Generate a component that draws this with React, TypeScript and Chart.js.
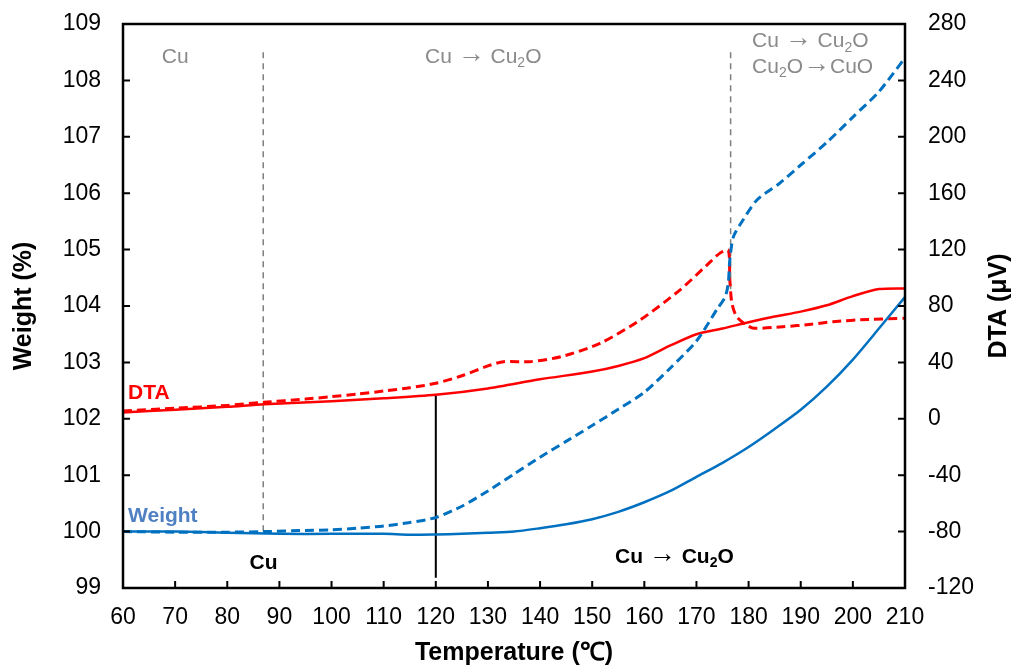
import React, { useEffect, useRef } from "react";
import { Chart, registerables } from "chart.js";

Chart.register(...registerables);

// ---- Data ----
const weightSolidT = [60, 70, 80, 90, 100, 110, 115, 120, 125, 130, 135, 140, 145, 150, 155, 160, 165, 170, 175, 180, 185, 190, 195, 200, 205, 210];
const weightSolid = [100.0, 100.0, 99.98, 99.96, 99.96, 99.96, 99.945, 99.95, 99.96, 99.98, 100.0, 100.06, 100.13, 100.22, 100.35, 100.52, 100.72, 100.97, 101.22, 101.5, 101.82, 102.16, 102.57, 103.05, 103.6, 104.16];

const weightDashedT = [60, 70, 80, 87, 95, 100, 105, 110, 115, 120, 125, 130, 135, 140, 145, 150, 155, 160, 165, 170, 174, 175.5, 176.1, 176.4, 177.1, 178.9, 181.6, 186, 190, 195, 200, 205, 210];
const weightDashed = [100.0, 99.99, 99.99, 100.0, 100.02, 100.03, 100.06, 100.1, 100.16, 100.25, 100.45, 100.72, 101.02, 101.32, 101.6, 101.88, 102.17, 102.47, 102.9, 103.38, 103.95, 104.16, 104.4, 104.82, 105.23, 105.52, 105.88, 106.18, 106.5, 106.9, 107.35, 107.8, 108.4];

const dtaSolidT = [60, 70, 80, 87, 100, 110, 120, 130, 140, 150, 155, 160, 165, 170, 175, 180, 185, 190, 195, 200, 205, 210];
const dtaSolid = [4.5, 6.5, 8.5, 10.3, 12.5, 14.5, 17, 21.5, 28, 33.5, 37.5, 43, 52, 60, 64, 68.5, 72.5, 76, 80.5, 87, 92, 92.5];

const dtaDashedT = [60, 70, 80, 87, 95, 100, 105, 110, 115, 120, 125, 130, 133, 138, 144, 151.5, 159.2, 166.8, 172, 174.5, 176.1, 176.4, 176.8, 177.7, 179.6, 181, 186.6, 192, 196.2, 203, 210];
const dtaDashed = [5.5, 7.5, 9.5, 11.7, 14, 15.7, 17.5, 19.7, 22, 25.2, 30.5, 37.5, 40.5, 40.5, 44, 53.5, 70.1, 91.3, 109, 117.5, 119.7, 98.4, 81.9, 72.4, 66.5, 64.2, 65.3, 67, 68.9, 70.5, 71.3];

// phase boundary markers (temperature, weight top, weight bottom)
const boundaryT = [86.9, 176.55];
const boundaryTop = [108.5, 108.5];
const boundaryBottom = [100.0, 104.05];
const markerT = 120;
const markerTop = 102.43;
const markerBottom = 99.18;

// axis ranges / ticks
const xMin = 60, xMax = 210, xStep = 10;
const yMin = 99, yMax = 109, yStep = 1;
const y2Min = -120, y2Max = 280, y2Step = 40;

const FONT = '"Liberation Sans", Arial, Helvetica, sans-serif';

type Seg = { t: string; sub?: boolean; arrow?: boolean };
type Ann = { segs: Seg[]; x: number; y: number; align: "left" | "center"; bold: boolean; color: string; size: number };

const ARROW = "\u2192";
const cuToCu2O: Seg[] = [{ t: "Cu " }, { t: ARROW, arrow: true }, { t: " Cu" }, { t: "2", sub: true }, { t: "O" }];
const cu2OToCuO: Seg[] = [{ t: "Cu" }, { t: "2", sub: true }, { t: "O" }, { t: ARROW, arrow: true }, { t: "CuO" }];

const annotations: Ann[] = [
  { segs: [{ t: "Cu" }], x: 70, y: 108.41, align: "center", bold: false, color: "#8a8a8a", size: 21 },
  { segs: cuToCu2O, x: 129.1, y: 108.41, align: "center", bold: false, color: "#8a8a8a", size: 21 },
  { segs: cuToCu2O, x: 180.66, y: 108.69, align: "left", bold: false, color: "#8a8a8a", size: 21 },
  { segs: cu2OToCuO, x: 180.66, y: 108.24, align: "left", bold: false, color: "#8a8a8a", size: 21 },
  { segs: [{ t: "DTA" }], x: 60.96, y: 102.46, align: "left", bold: true, color: "#ff0000", size: 21 },
  { segs: [{ t: "Weight" }], x: 60.96, y: 100.28, align: "left", bold: true, color: "#4f80c2", size: 21 },
  { segs: [{ t: "Cu" }], x: 86.95, y: 99.44, align: "center", bold: true, color: "#000000", size: 21 },
  { segs: cuToCu2O, x: 154.38, y: 99.55, align: "left", bold: true, color: "#000000", size: 21 },
];

function drawRich(ctx: CanvasRenderingContext2D, a: Ann, px: number, py: number) {
  const f = (s: Seg) =>
    s.arrow
      ? `${Math.round(a.size * 1.3)}px ${FONT}`
      : `${a.bold ? "bold " : ""}${s.sub ? Math.round(a.size * 0.65) : a.size}px ${FONT}`;
  let total = 0;
  const widths = a.segs.map((s) => {
    ctx.font = f(s);
    const w = ctx.measureText(s.t).width;
    total += w;
    return w;
  });
  let cx = a.align === "center" ? px - total / 2 : px;
  ctx.fillStyle = a.color;
  ctx.textAlign = "left";
  ctx.textBaseline = "middle";
  a.segs.forEach((s, i) => {
    ctx.font = f(s);
    const dy = s.sub ? a.size * 0.3 : s.arrow ? -a.size * 0.12 : 0;
    ctx.fillText(s.t, cx, py + dy);
    cx += widths[i];
  });
}

const decorPlugin = {
  id: "decor",
  afterDraw(chart: any) {
    const ctx: CanvasRenderingContext2D = chart.ctx;
    const { left, right, top, bottom } = chart.chartArea;
    const xs = chart.scales.x;
    const ys = chart.scales.y;
    const y2 = chart.scales.y2;
    ctx.save();
    // frame
    ctx.strokeStyle = "#000";
    ctx.lineWidth = 2.5;
    ctx.strokeRect(left, top, right - left, bottom - top);
    // inward ticks
    ctx.lineWidth = 2;
    ctx.beginPath();
    for (let v = xMin + xStep; v < xMax; v += xStep) {
      const p = xs.getPixelForValue(v);
      ctx.moveTo(p, bottom);
      ctx.lineTo(p, bottom - 7);
    }
    for (let v = yMin + yStep; v < yMax; v += yStep) {
      const p = ys.getPixelForValue(v);
      ctx.moveTo(left, p);
      ctx.lineTo(left + 7, p);
    }
    for (let v = y2Min + y2Step; v < y2Max; v += y2Step) {
      const p = y2.getPixelForValue(v);
      ctx.moveTo(right, p);
      ctx.lineTo(right - 7, p);
    }
    ctx.stroke();

    // annotations
    annotations.forEach((a) => drawRich(ctx, a, xs.getPixelForValue(a.x), ys.getPixelForValue(a.y)));

    // axis titles
    ctx.fillStyle = "#000";
    ctx.font = `bold 25px ${FONT}`;
    ctx.textAlign = "center";
    ctx.textBaseline = "middle";
    ctx.fillText("Temperature (\u2103)", (left + right) / 2, bottom + 65);
    ctx.save();
    ctx.translate(left - 99, (top + bottom) / 2);
    ctx.rotate(-Math.PI / 2);
    ctx.fillText("Weight (%)", 0, 0);
    ctx.restore();
    ctx.save();
    ctx.translate(right + 94, (top + bottom) / 2);
    ctx.rotate(-Math.PI / 2);
    ctx.fillText("DTA (\u03bcV)", 0, 0);
    ctx.restore();
    ctx.restore();
  },
};

const zip = (xs: number[], ys: number[]) => xs.map((x, i) => ({ x, y: ys[i] }));

export default function App() {
  const ref = useRef<HTMLCanvasElement | null>(null);
  useEffect(() => {
    document.body.style.margin = "0";
    if (!ref.current) return;
    const blue = "#0070c0";
    const red = "#ff0000";
    const gray = "#7f7f7f";
    const lineBase = { pointRadius: 0, fill: false, tension: 0.25 };
    const chart = new Chart(ref.current, {
      type: "line",
      data: {
        datasets: [
          { ...lineBase, data: zip(weightSolidT, weightSolid), borderColor: blue, borderWidth: 2.5, yAxisID: "y" },
          { ...lineBase, data: zip(weightDashedT, weightDashed), borderColor: blue, borderWidth: 3, borderDash: [9, 5], yAxisID: "y" },
          { ...lineBase, data: zip(dtaSolidT, dtaSolid), borderColor: red, borderWidth: 2.5, yAxisID: "y2" },
          { ...lineBase, data: zip(dtaDashedT, dtaDashed), borderColor: red, borderWidth: 3, borderDash: [9, 5], yAxisID: "y2" },
          { ...lineBase, tension: 0, data: [{ x: boundaryT[0], y: boundaryTop[0] }, { x: boundaryT[0], y: boundaryBottom[0] }], borderColor: gray, borderWidth: 1.5, borderDash: [6, 5], yAxisID: "y" },
          { ...lineBase, tension: 0, data: [{ x: boundaryT[1], y: boundaryTop[1] }, { x: boundaryT[1], y: boundaryBottom[1] }], borderColor: gray, borderWidth: 1.5, borderDash: [6, 5], yAxisID: "y" },
          { ...lineBase, tension: 0, data: [{ x: markerT, y: markerTop }, { x: markerT, y: markerBottom }], borderColor: "#000", borderWidth: 2, yAxisID: "y" },
        ],
      },
      options: {
        responsive: false,
        animation: false,
        layout: { padding: { top: 24, left: 0, right: 0, bottom: 0 } },
        plugins: { legend: { display: false }, tooltip: { enabled: false } },
        scales: {
          x: {
            type: "linear",
            min: xMin,
            max: xMax,
            ticks: { stepSize: xStep, color: "#000", font: { family: FONT, size: 23 }, padding: 16, maxRotation: 0 },
            grid: { display: false, drawTicks: false },
            border: { display: false },
            afterFit: (s: any) => { s.height = 78; s.paddingLeft = 0; s.paddingRight = 0; },
          },
          y: {
            type: "linear",
            position: "left",
            min: yMin,
            max: yMax,
            ticks: { stepSize: yStep, color: "#000", font: { family: FONT, size: 23 }, padding: 22 },
            grid: { display: false, drawTicks: false },
            border: { display: false },
            afterFit: (s: any) => { s.width = 123; s.paddingTop = 0; s.paddingBottom = 0; },
          },
          y2: {
            type: "linear",
            position: "right",
            min: y2Min,
            max: y2Max,
            ticks: { stepSize: y2Step, color: "#000", font: { family: FONT, size: 23 }, padding: 23 },
            grid: { display: false, drawTicks: false },
            border: { display: false },
            afterFit: (s: any) => { s.width = 110; s.paddingTop = 0; s.paddingBottom = 0; },
          },
        },
      },
      plugins: [decorPlugin],
    } as any);
    return () => chart.destroy();
  }, []);
  return (
    <div style={{ position: "absolute", left: 0, top: 0, width: 1015, height: 666, background: "#fff" }}>
      <canvas ref={ref} width={1015} height={666} />
    </div>
  );
}
